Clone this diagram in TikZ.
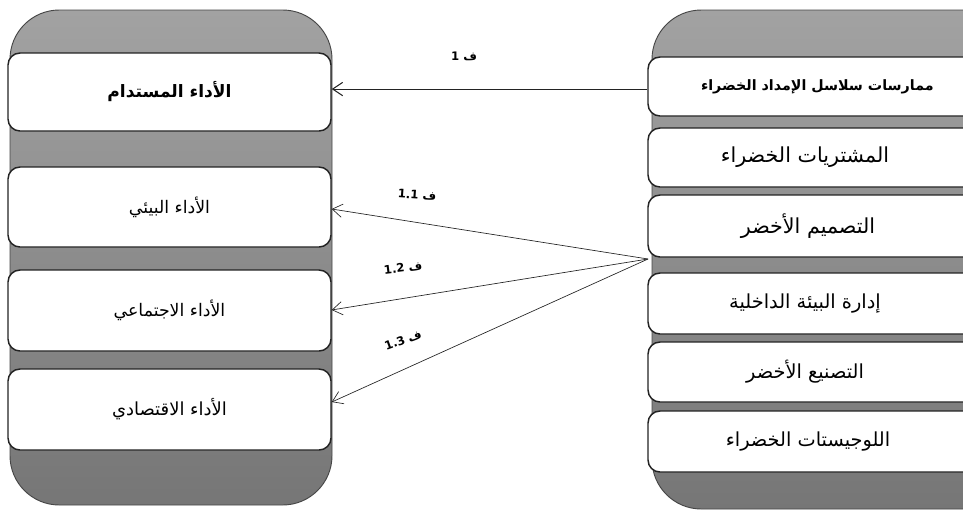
\documentclass[tikz,border=0pt]{standalone}
\usepackage{fontspec}
\setmainfont{DejaVu Sans}
\newfontfamily\arabicfont[Script=Arabic]{DejaVu Sans}
\TeXXeTstate=1
\usetikzlibrary{arrows.meta}
\definecolor{paneltop}{RGB}{162,162,162}
\definecolor{panelbot}{RGB}{118,118,118}
\definecolor{edge}{RGB}{35,35,35}
\tikzset{
  panel/.style={draw={rgb,255:red,70;green,70;blue,70}, line width=0.7pt,
    top color=paneltop, bottom color=panelbot, rounded corners=37pt},
  box/.style={draw=edge, line width=1.1pt, fill=white, rounded corners=9pt,
    inner sep=0pt, font=\arabicfont},
  lbox/.style={box, minimum width=242.25pt},
  rbox/.style={box, minimum width=264pt},
  arr/.style={draw=edge, line width=0.5pt, -{Straight Barb[length=7.5pt,width=10pt]}},
  lbl/.style={font=\arabicfont\bfseries\fontsize{8.8}{10}\selectfont, inner sep=1pt}
}
\begin{document}
\begin{tikzpicture}[x=0.75pt,y=-0.75pt]
\useasboundingbox (0,0) rectangle (963,511);
\clip (0,0) rectangle (963,511);
% panels
\shade[panel] (10,10) rectangle (332,505);
\shade[panel] (652,10) rectangle (1100,509);
% left boxes
\node[lbox, minimum height=58.5pt] (perf) at (169.5,92)
  {\bfseries\fontsize{12.8}{15}\selectfont\beginR الأداء المستدام\endR};
\node[lbox, minimum height=60pt] (env) at (169.5,207)
  {\fontsize{13}{15}\selectfont\beginR الأداء البيئي\endR};
\node[lbox, minimum height=60.75pt] (soc) at (169.5,310.5)
  {\fontsize{13}{15}\selectfont\beginR الأداء الاجتماعي\endR};
\node[lbox, minimum height=60.75pt] (eco) at (169.5,409.5)
  {\fontsize{13.5}{15}\selectfont\beginR الأداء الاقتصادي\endR};
% right boxes
\node[rbox, minimum height=44.25pt] (gscm) at (824,86.5)
  {\bfseries\fontsize{10.7}{12}\selectfont\beginR ممارسات سلاسل الإمداد الخضراء\endR\hspace*{10pt}};
\node[rbox, minimum height=44.25pt] (proc) at (824,157.5)
  {\fontsize{15.5}{17}\selectfont\beginR المشتريات الخضراء\endR\hspace*{28.5pt}};
\node[rbox, minimum height=46.5pt] (design) at (824,226)
  {\fontsize{15.5}{17}\selectfont\beginR التصميم الأخضر\endR\hspace*{24pt}};
\node[rbox, minimum height=45.75pt] (iem) at (824,303.5)
  {\fontsize{14.5}{16}\selectfont\beginR إدارة البيئة الداخلية\endR\hspace*{28.5pt}};
\node[rbox, minimum height=45pt] (manuf) at (824,372)
  {\fontsize{14.5}{16}\selectfont\beginR التصنيع الأخضر\endR\hspace*{28.5pt}};
\node[rbox, minimum height=45.75pt] (logi) at (824,441.5)
  {\fontsize{14.5}{16}\selectfont\beginR اللوجيستات الخضراء\endR\hspace*{24pt}};
% connectors
\draw[arr, line width=0.8pt] ([yshift=-1.9pt]gscm.west) -- ([yshift=-1.9pt]gscm.west -| perf.east);
\coordinate (hub) at (648,259);
\draw[arr] (hub) -- ([yshift=-1.5pt]env.east);
\draw[arr] (hub) -- ([yshift=0.4pt]soc.east);
\draw[arr] (hub) -- ([yshift=5.6pt]eco.east);
% labels
\node[lbl] (l1) at (464,56) {\beginR ف \beginL 1\endL\endR};
\node[lbl, rotate=-4] (l11) at (417,195) {\beginR ف\hspace{3pt}\beginL 1.1\endL\endR};
\node[lbl, rotate=7] (l12) at (403,268) {\beginR ف\hspace{3pt}\beginL 1.2\endL\endR};
\node[lbl, rotate=20] (l13) at (403,340) {\beginR ف\hspace{3pt}\beginL 1.3\endL\endR};
\end{tikzpicture}
\end{document}
